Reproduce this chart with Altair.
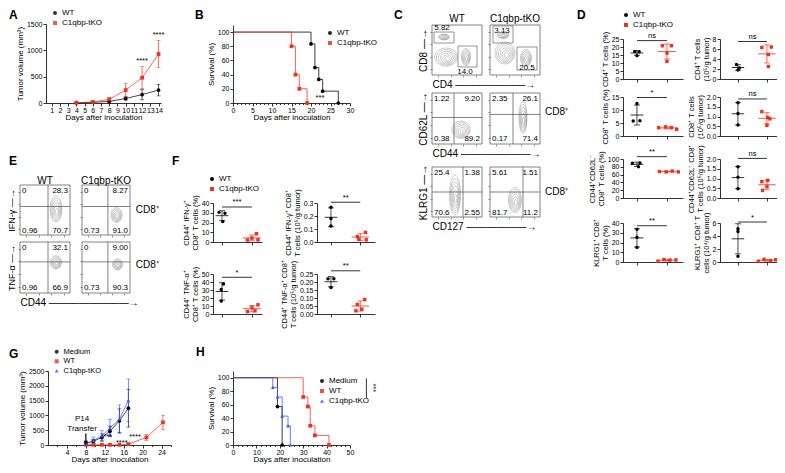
import altair as alt
import pandas as pd

FONT = "Liberation Sans"
BLACK = "#000000"
RED = "#f2311c"
BLUE = "#3355ff"
CONTOUR = "#9b9b9b"
GATE = "#4d4d4d"

GROUPS2 = ["WT", "C1qbp-tKO"]
GROUPS3 = ["Medium", "WT", "C1qbp-tKO"]

# ======================= DATA =======================
# ---- A: tumour growth ----
a_days = [4, 6, 8, 10, 12, 14]
a_wt_mean = [5, 12, 30, 85, 160, 245]
a_wt_sd = [3, 5, 12, 30, 100, 110]
a_ko_mean = [5, 20, 70, 245, 480, 930]
a_ko_sd = [3, 8, 30, 125, 210, 255]
a_x_ticks = list(range(1, 15))
a_y_ticks = [0, 500, 1000, 1500]
a_sig_day = [12, 14]
a_sig_y = [720, 1215]
a_sig_text = ["****", "****"]

# ---- B: survival ----
b_wt_day = [0, 20, 21, 22, 23, 27]
b_wt_surv = [100, 83.3, 50.0, 33.3, 16.7, 0]
b_ko_day = [0, 15, 16, 17, 19]
b_ko_surv = [100, 80, 40, 20, 0]
b_x_ticks = list(range(0, 31))
b_y_ticks = [0, 20, 40, 60, 80, 100]
b_sig_day = [22.3]
b_sig_y = [7]
b_sig_text = ["***"]

# ---- C / E flow plots (flow units 0-100) ----
flow_ticks = [12, 37, 62, 87]
quad_x = [4, 96, 4, 96]
quad_y = [88, 88, 9, 9]
quad_align = ["left", "right", "left", "right"]

c1_wt_blobs = [(28, 36, 46, 36), (24, 76, 22, 12), (68, 36, 18, 34)]
c1_ko_blobs = [(30, 44, 40, 44), (26, 80, 24, 14), (72, 34, 22, 34)]
c1_wt_gates = [(4, 44, 64, 86), (52, 90, 16, 58)]
c1_ko_gates = [(6, 46, 64, 98), (54, 94, 10, 56)]
c1_wt_num = ["5.82", "14.0"]
c1_wt_num_x = [20, 66]
c1_wt_num_y = [94, 7]
c1_ko_num = ["3.13", "20.5"]
c1_ko_num_x = [24, 74]
c1_ko_num_y = [89, 15]

c2_wt_num = ["1.22", "9.20", "0.38", "89.2"]
c2_ko_num = ["2.35", "26.1", "0.17", "71.4"]
c2_v = [44, 46]
c2_h = [52, 58]
c2_wt_blobs = [(58, 28, 36, 34)]
c2_ko_blobs = [(66, 52, 16, 62)]

c3_wt_num = ["25.4", "1.38", "70.6", "2.55"]
c3_ko_num = ["5.61", "1.51", "81.7", "11.2"]
c3_v = [62, 66]
c3_h = [50, 50]
c3_wt_blobs = [(46, 44, 22, 80)]
c3_ko_blobs = [(50, 34, 26, 50)]

e1_wt_num = ["0", "28.3", "0.96", "70.7"]
e1_ko_num = ["0", "8.27", "0.73", "91.0"]
e1_v = [56, 54]
e1_h = [57, 57]
e1_wt_blobs = [(72, 52, 24, 52)]
e1_ko_blobs = [(72, 40, 22, 30)]

e2_wt_num = ["0", "32.1", "0.96", "66.9"]
e2_ko_num = ["0", "9.00", "0.73", "90.3"]
e2_v = [56, 54]
e2_h = [61, 61]
e2_wt_blobs = [(72, 60, 22, 26)]
e2_ko_blobs = [(74, 56, 20, 22)]

# ---- D dot plots ----
d11_wt = [17.2, 17.0, 14.6]
d11_wt_off = [-0.15, 0.15, 0.0]
d11_ko = [20.8, 20.8, 16.2, 11.0]
d11_ko_off = [-0.3, 0.3, 0.0, 0.0]
d12_wt = [2.9, 2.2, 1.8]
d12_wt_off = [-0.1, 0.1, 0.0]
d12_ko = [6.3, 6.4, 4.9, 2.5]
d12_ko_off = [-0.35, 0.3, 0.1, 0.1]
d21_wt = [12.5, 5.8, 5.9]
d21_wt_off = [0.0, -0.25, 0.2]
d21_ko = [3.2, 3.5, 3.2, 2.6]
d21_ko_off = [-0.55, -0.1, 0.3, 0.65]
d22_wt = [1.71, 1.15, 0.56]
d22_wt_off = [0.0, 0.0, 0.0]
d22_ko = [1.25, 0.95, 0.88, 0.55]
d22_ko_off = [-0.35, 0.05, 0.2, 0.0]
d31_wt = [89, 90, 80]
d31_wt_off = [-0.3, 0.2, 0.1]
d31_ko = [68, 67, 69, 67]
d31_ko_off = [-0.5, -0.05, 0.35, 0.75]
d32_wt = [1.6, 1.07, 0.47]
d32_wt_off = [0.0, 0.0, 0.0]
d32_ko = [0.84, 0.9, 0.59, 0.39]
d32_ko_off = [-0.35, 0.05, 0.0, -0.3]
d41_wt = [33.7, 25.4, 15.0]
d41_wt_off = [0.0, 0.0, 0.0]
d41_ko = [0.8, 2.5, 2.0, 2.1]
d41_ko_off = [-0.6, -0.2, 0.2, 0.6]
d42_wt = [5.1, 4.7, 0.9]
d42_wt_off = [0.0, 0.0, 0.0]
d42_ko = [0.1, 0.4, 0.2, 0.35]
d42_ko_off = [-0.6, -0.2, 0.25, 0.6]

# ---- F dot plots ----
f11_wt = [30.4, 29.5, 21.1]
f11_wt_off = [-0.2, 0.2, 0.05]
f11_ko = [8.5, 4.0, 2.0, 2.2]
f11_ko_off = [0.3, 0.0, -0.3, 0.4]
f12_wt = [0.267, 0.18, 0.123]
f12_wt_off = [0.0, 0.0, 0.0]
f12_ko = [0.074, 0.041, 0.017, 0.02]
f12_ko_off = [0.35, -0.2, 0.4, -0.1]
f21_wt = [37.6, 30.6, 16.2]
f21_wt_off = [0.1, -0.05, -0.05]
f21_ko = [11.5, 8.0, 4.0, 3.0]
f21_ko_off = [0.4, 0.0, 0.2, -0.3]
f22_wt = [0.22, 0.22, 0.165]
f22_wt_off = [-0.2, 0.2, 0.0]
f22_ko = [0.09, 0.06, 0.03, 0.02]
f22_ko_off = [0.3, -0.2, 0.1, -0.3]

# ---- G: growth after transfer ----
g_days = [8, 9.6, 11.4, 13.1, 15.1, 17.0]
g_wt_days = [8, 9.6, 11.4, 13.1, 15.1, 17.0, 20.8, 24.3]
g_med_mean = [50, 128, 255, 468, 819, 1245]
g_med_sd = [15, 60, 120, 170, 400, 640]
g_wt_mean = [8, 6, 6, 6, 4, 30, 255, 766]
g_wt_sd = [3, 3, 3, 3, 3, 10, 100, 240]
g_ko_mean = [32, 160, 309, 574, 872, 1511]
g_ko_sd = [15, 110, 180, 300, 480, 720]
g_x_ticks = list(range(2, 27, 2))
g_y_ticks = [0, 500, 1000, 1500, 2000, 2500]
g_sig_day = [18.4, 12.6, 15.6]
g_sig_y = [140, 140, -60]
g_sig_text = ["****", "***", "****"]
g_note_day = [7.2, 7.2]
g_note_y = [870, 555]
g_note_text = ["P14", "Transfer"]
g_arrow_day = [8]
g_arrow_top = [390]
g_arrow_bottom = [110]
g_arrow_head = [75]

# ---- H: survival after transfer ----
h_med_day = [0, 19, 21]
h_med_surv = [100, 57.1, 0]
h_wt_day = [0, 30, 32, 33, 35, 41]
h_wt_surv = [100, 71.4, 57.1, 28.6, 14.3, 0]
h_ko_day = [0, 17, 19, 21, 23.5, 24.5]
h_ko_surv = [100, 85.7, 71.4, 42.9, 28.6, 0]
h_x_ticks = list(range(0, 51, 2))
h_sig_x = [57]
h_sig_top = [99]
h_sig_bottom = [70]
h_sig_text_x = [60]
h_sig_text_y = [85]

# ---- panel letters ----
letters = ["A", "B", "C", "D", "E", "F", "G", "H"]

RING_FRACS = [0.22, 0.4, 0.56, 0.71, 0.86, 1.0]

# ======================= LAYOUT (page pixels) =======================
W, H = 775, 463
OFF = 2          # chart coordinate = page coordinate - OFF
PAD = -6

BOX_A = (46, 161, 24, 103)
BOX_B = (233, 350, 25, 103)
BOX_G = (48, 171, 371, 445)
BOX_H = (233, 350, 371, 445)
C_COLS = [(432, 482), (490, 540)]
C_ROWS = [(25, 75), (93, 144), (167, 217)]
E_COLS = [(20, 70), (82, 130)]
E_ROWS = [(185, 235), (242, 293)]
D_COLS = [(623, 683), (720, 782)]
D_ROWS = [(39, 79), (97, 136), (159, 198), (223, 262)]
F_COLS = [(213, 262), (317, 375)]
F_ROWS = [(203, 242), (274, 314)]
LETTER_POS = [(9, 10), (195, 10), (394, 10), (577, 10), (9, 156), (172, 156), (9, 349), (196, 347)]


def xsc(dom, x0, x1):
    return alt.Scale(domain=dom, range=[x0 - OFF, x1 - OFF], nice=False, zero=False)


def ysc(dom, y0, y1):
    return alt.Scale(domain=dom, range=[y1 - OFF, y0 - OFF], nice=False, zero=False)


def xoff(y1):
    return (y1 - OFF) - H


def yoff(x0):
    return -(x0 - OFF)


def legend_at(x, y, fs=8, row_pad=2):
    return alt.Legend(orient="none", legendX=x - OFF, legendY=y - OFF, title=None, labelFontSize=fs,
                      symbolSize=16, rowPadding=row_pad, labelOffset=3, padding=0)


def color_expr(groups, colors):
    e = f"'{colors[-1]}'"
    for g, c in reversed(list(zip(groups[:-1], colors[:-1]))):
        e = f"datum.group == '{g}' ? '{c}' : ({e})"
    return e


FIXED = alt.Color("col:N", scale=None)

# ======================= BUILDERS =======================
def growth_df(groups):
    rows = []
    for name, days, means, sds in groups:
        for d, m, s in zip(days, means, sds):
            rows.append({"group": name, "day": d, "m": m, "s": s})
    return pd.DataFrame(rows)


def growth_chart(df, groups, colors, shapes, box, xdom, xticks, ydom, yticks, legend,
                 sig_day, sig_y, sig_text, label_every=None, extra=()):
    x0, x1, y0, y1 = box
    xs = xsc(xdom, x0, x1)
    ys = ysc(ydom, y0, y1)
    xkw = dict(orient="bottom", offset=xoff(y1), values=xticks, title="Days after inoculation",
               tickSize=3, titlePadding=0, labelPadding=0.5)
    if label_every:
        xkw["labelExpr"] = f"datum.value % {label_every} === 0 ? datum.label : ''"
        xkw["tickSize"] = {"condition": {"test": f"datum.value % {label_every} === 0", "value": 3}, "value": 1.5}
    xax = alt.Axis(**xkw)
    yax = alt.Axis(orient="left", offset=yoff(x0), values=yticks, format="d", title="Tumor volume (mm³)",
                   tickSize=3)
    cs = alt.Scale(domain=groups, range=colors)
    ss = alt.Scale(domain=groups, range=shapes)
    base = alt.Chart(df).transform_calculate(lo="datum.m - datum.s", hi="datum.m + datum.s",
                                             col=color_expr(groups, colors))
    X = alt.X("day:Q", scale=xs, axis=xax)
    line = base.mark_line(strokeWidth=0.9, opacity=0.8).encode(x=X, y=alt.Y("m:Q", scale=ys, axis=yax), color=FIXED)
    err = base.mark_rule(strokeWidth=0.7).encode(x=X, y=alt.Y("lo:Q", scale=ys, axis=yax), y2="hi:Q", color=FIXED)
    cap_hi = base.mark_tick(orient="horizontal", size=4, thickness=0.7).encode(
        x=X, y=alt.Y("hi:Q", scale=ys, axis=yax), color=FIXED)
    cap_lo = base.mark_tick(orient="horizontal", size=4, thickness=0.7).encode(
        x=X, y=alt.Y("lo:Q", scale=ys, axis=yax), color=FIXED)
    pts = alt.Chart(df).mark_point(filled=True, size=14, opacity=1).encode(
        x=X, y=alt.Y("m:Q", scale=ys, axis=yax),
        color=alt.Color("group:N", scale=cs, legend=legend),
        shape=alt.Shape("group:N", scale=ss, legend=legend))
    sdf = pd.DataFrame({"day": sig_day, "y": sig_y, "t": sig_text})
    sig = alt.Chart(sdf).mark_text(fontSize=7.5, baseline="bottom", color=BLACK).encode(
        x=alt.X("day:Q", scale=xs, axis=xax), y=alt.Y("y:Q", scale=ys, axis=yax), text="t:N")
    layers = [line, err, cap_hi, cap_lo, pts, sig] + [e(xs, ys, xax, yax) for e in extra]
    return alt.layer(*layers)


def surv_df(groups):
    rows = []
    for name, days, surv in groups:
        for d, s in zip(days, surv):
            rows.append({"group": name, "day": d, "surv": s})
    return pd.DataFrame(rows)


def surv_chart(df, groups, colors, shapes, box, xdom, xticks, label_every, legend, extra=()):
    x0, x1, y0, y1 = box
    xs = xsc(xdom, x0, x1)
    ys = ysc([0, 110], y0, y1)
    xax = alt.Axis(orient="bottom", offset=xoff(y1), values=xticks, title="Days after inoculation",
                   titlePadding=0, labelPadding=0.5,
                   labelExpr=f"datum.value % {label_every} === 0 ? datum.label : ''",
                   tickSize={"condition": {"test": f"datum.value % {label_every} === 0", "value": 3}, "value": 1.5})
    yax = alt.Axis(orient="left", offset=yoff(x0), values=[0, 20, 40, 60, 80, 100], title="Survival (%)", tickSize=3)
    cs = alt.Scale(domain=groups, range=colors)
    ss = alt.Scale(domain=groups, range=shapes)
    X = alt.X("day:Q", scale=xs, axis=xax)
    Y = alt.Y("surv:Q", scale=ys, axis=yax)
    line = alt.Chart(df).transform_calculate(col=color_expr(groups, colors)).mark_line(
        interpolate="step-after", strokeWidth=0.9, opacity=0.85).encode(x=X, y=Y, color=FIXED)
    pts = alt.Chart(df).transform_filter("datum.day > 0").mark_point(filled=True, size=14, opacity=1).encode(
        x=X, y=Y, color=alt.Color("group:N", scale=cs, legend=legend),
        shape=alt.Shape("group:N", scale=ss, legend=legend))
    layers = [line, pts] + [e(xs, ys, xax, yax) for e in extra]
    return alt.layer(*layers)


def flow_chart(col, row, blobs, nums, num_x, num_y, num_align, vline=None, hline=None, gates=(),
               ytitle=None, xtitle=None, side=None, side_x=110, side_y=50, ytitle_size=10,
               head=None, head_y=112):
    x0, x1 = col
    y0, y1 = row
    hpx = y1 - y0
    ring = []
    for cx, cy, bw, bh in blobs:
        a = bw / bh
        path = f"M {-a:.3f} 0 A {a:.3f} 1 0 1 1 {a:.3f} 0 A {a:.3f} 1 0 1 1 {-a:.3f} 0 Z"
        for f in RING_FRACS:
            # inner contours drift slightly toward the density peak (lower right of the blob)
            ring.append({"x": cx + (1 - f) * 0.08 * bw, "y": cy - (1 - f) * 0.12 * bh, "path": path,
                         "size": round((f * bh * hpx / 100.0) ** 2, 2)})
    ring_df = pd.DataFrame(ring)
    xs = xsc([0, 100], x0, x1)
    ys = ysc([0, 100], y0, y1)
    xkw = dict(orient="bottom", offset=xoff(y1), values=flow_ticks, labels=False, tickSize=2,
               tickColor="#777777", domain=False, grid=False)
    if xtitle:
        xkw.update(title=xtitle, titleFontSize=10, titleAnchor="start", titleLimit=300, titlePadding=2)
    else:
        xkw["title"] = None
    ykw = dict(orient="left", offset=yoff(x0), values=flow_ticks, labels=False, tickSize=2,
               tickColor="#777777", domain=False, grid=False)
    if ytitle:
        ykw.update(title=ytitle, titleFontSize=ytitle_size, titlePadding=1, titleLimit=300)
    else:
        ykw["title"] = None
    xax = alt.Axis(**xkw)
    yax = alt.Axis(**ykw)

    def X(f):
        return alt.X(f, scale=xs, axis=xax)

    def Y(f):
        return alt.Y(f, scale=ys, axis=yax)

    frame = pd.DataFrame({"x1": [0], "x2": [100], "y1": [0], "y2": [100]})
    layers = [
        alt.Chart(frame).mark_rect(filled=False, color=GATE, strokeWidth=0.7).encode(
            x=X("x1:Q"), x2="x2:Q", y=Y("y1:Q"), y2="y2:Q"),
        alt.Chart(ring_df).mark_point(filled=False, color=CONTOUR, strokeWidth=0.5, opacity=1).encode(
            x=X("x:Q"), y=Y("y:Q"), shape=alt.Shape("path:N", scale=None), size=alt.Size("size:Q", scale=None)),
    ]
    if vline is not None:
        layers.append(alt.Chart(pd.DataFrame({"v": [vline], "a": [0], "b": [100]})).mark_rule(
            color=GATE, strokeWidth=0.7).encode(x=X("v:Q"), y=Y("a:Q"), y2="b:Q"))
    if hline is not None:
        layers.append(alt.Chart(pd.DataFrame({"v": [hline], "a": [0], "b": [100]})).mark_rule(
            color=GATE, strokeWidth=0.7).encode(y=Y("v:Q"), x=X("a:Q"), x2="b:Q"))
    if gates:
        gdf = pd.DataFrame(list(gates), columns=["x1", "x2", "y1", "y2"])
        layers.append(alt.Chart(gdf).mark_rect(filled=False, color=GATE, strokeWidth=0.6).encode(
            x=X("x1:Q"), x2="x2:Q", y=Y("y1:Q"), y2="y2:Q"))
    ndf = pd.DataFrame({"x": num_x, "y": num_y, "t": nums, "al": num_align})
    for al in ("left", "center", "right"):
        sub = ndf[ndf["al"] == al]
        if len(sub):
            layers.append(alt.Chart(sub).mark_text(align=al, baseline="middle", fontSize=8, color=BLACK).encode(
                x=X("x:Q"), y=Y("y:Q"), text="t:N"))
    if side:
        sdf = pd.DataFrame({"x": [side_x], "y": [side_y], "t": [side]})
        layers.append(alt.Chart(sdf).mark_text(align="left", baseline="middle", fontSize=10, color=BLACK).encode(
            x=X("x:Q"), y=Y("y:Q"), text="t:N"))
    if head:
        hdf = pd.DataFrame({"x": [50], "y": [head_y], "t": [head]})
        layers.append(alt.Chart(hdf).mark_text(align="center", baseline="middle", fontSize=10, color=BLACK).encode(
            x=X("x:Q"), y=Y("y:Q"), text="t:N"))
    return alt.layer(*layers)


def dot_chart(col, row, wt, wt_off, ko, ko_off, ydom, yticks, yfmt, ytitle, sig_text, sig_y, xdom, legend=None):
    x0, x1 = col
    y0, y1 = row
    rows = [{"group": "WT", "gx": 1, "x": 1 + o, "v": v} for v, o in zip(wt, wt_off)]
    rows += [{"group": "C1qbp-tKO", "gx": 3, "x": 3 + o, "v": v} for v, o in zip(ko, ko_off)]
    df = pd.DataFrame(rows)
    xs = xsc(xdom, x0, x1)
    ys = ysc(ydom, y0, y1)
    xax = alt.Axis(orient="bottom", offset=xoff(y1), values=[1, 3], labels=False, title=None, tickSize=3)
    ykw = dict(orient="left", offset=yoff(x0), values=yticks, title=ytitle, tickSize=3, labelFontSize=7,
               titleFontSize=7.5, titlePadding=2, titleLineHeight=8.5)
    if yfmt:
        ykw["format"] = yfmt
    yax = alt.Axis(**ykw)
    cs = alt.Scale(domain=GROUPS2, range=[BLACK, RED])
    ss = alt.Scale(domain=GROUPS2, range=["circle", "square"])

    def X(f):
        return alt.X(f, scale=xs, axis=xax)

    def Y(f):
        return alt.Y(f, scale=ys, axis=yax)

    stats = alt.Chart(df).transform_aggregate(
        m="mean(v)", s="stdev(v)", groupby=["group", "gx"]
    ).transform_calculate(
        lo="datum.m - datum.s", hi="datum.m + datum.s",
        hw="datum.group == 'WT' ? 0.43 : 0.6",
        xl="datum.gx - datum.hw", xr="datum.gx + datum.hw",
        cl="datum.gx - 0.2", cr="datum.gx + 0.2",
        col=color_expr(GROUPS2, [BLACK, RED]))
    mean_l = stats.mark_rule(strokeWidth=0.8).encode(x=X("xl:Q"), x2="xr:Q", y=Y("m:Q"), color=FIXED)
    sd_l = stats.mark_rule(strokeWidth=0.7).encode(x=X("gx:Q"), y=Y("lo:Q"), y2="hi:Q", color=FIXED)
    cap_h = stats.mark_rule(strokeWidth=0.7).encode(x=X("cl:Q"), x2="cr:Q", y=Y("hi:Q"), color=FIXED)
    cap_l = stats.mark_rule(strokeWidth=0.7).encode(x=X("cl:Q"), x2="cr:Q", y=Y("lo:Q"), color=FIXED)
    pts = alt.Chart(df).mark_point(filled=True, size=12, opacity=1).encode(
        x=X("x:Q"), y=Y("v:Q"),
        color=alt.Color("group:N", scale=cs, legend=legend),
        shape=alt.Shape("group:N", scale=ss, legend=legend))
    sig_df = pd.DataFrame({"x1": [1], "x2": [3], "xm": [2], "y": [sig_y], "t": [sig_text]})
    sig_r = alt.Chart(sig_df).mark_rule(color=BLACK, strokeWidth=0.8).encode(x=X("x1:Q"), x2="x2:Q", y=Y("y:Q"))
    sig_t = alt.Chart(sig_df).mark_text(fontSize=7.5, baseline="bottom", dy=-0.5, color=BLACK).encode(
        x=X("xm:Q"), y=Y("y:Q"), text="t:N")
    return alt.layer(mean_l, sd_l, cap_h, cap_l, pts, sig_r, sig_t)


# ======================= PANELS =======================
panels = []

# A
a_df = growth_df([("WT", a_days, a_wt_mean, a_wt_sd), ("C1qbp-tKO", a_days, a_ko_mean, a_ko_sd)])
panels.append(growth_chart(a_df, GROUPS2, [BLACK, RED], ["circle", "square"], BOX_A, [0.3, 14.3], a_x_ticks,
                           [0, 1500], a_y_ticks, legend_at(51, 9), a_sig_day, a_sig_y, a_sig_text))

# B
b_df = surv_df([("WT", b_wt_day, b_wt_surv), ("C1qbp-tKO", b_ko_day, b_ko_surv)])


def b_sig(xs, ys, xax, yax):
    d = pd.DataFrame({"day": b_sig_day, "y": b_sig_y, "t": b_sig_text})
    return alt.Chart(d).mark_text(fontSize=7.5, baseline="middle", color=BLACK).encode(
        x=alt.X("day:Q", scale=xs, axis=xax), y=alt.Y("y:Q", scale=ys, axis=yax), text="t:N")


panels.append(surv_chart(b_df, GROUPS2, [BLACK, RED], ["circle", "square"], BOX_B, [0, 30], b_x_ticks, 5,
                         legend_at(326, 29), extra=(b_sig,)))

# C
panels += [
    flow_chart(C_COLS[0], C_ROWS[0], c1_wt_blobs, c1_wt_num, c1_wt_num_x, c1_wt_num_y, ["center", "center"],
               gates=c1_wt_gates, ytitle="CD8 —→", xtitle="CD4 ———————→", head="WT", head_y=112),
    flow_chart(C_COLS[1], C_ROWS[0], c1_ko_blobs, c1_ko_num, c1_ko_num_x, c1_ko_num_y, ["center", "center"],
               gates=c1_ko_gates, head="C1qbp-tKO", head_y=112),
    flow_chart(C_COLS[0], C_ROWS[1], c2_wt_blobs, c2_wt_num, quad_x, quad_y, quad_align, vline=c2_v[0],
               hline=c2_h[0], ytitle="CD62L —→", xtitle="CD44 ———————→"),
    flow_chart(C_COLS[1], C_ROWS[1], c2_ko_blobs, c2_ko_num, quad_x, quad_y, quad_align, vline=c2_v[1],
               hline=c2_h[1], side="CD8⁺", side_x=110, side_y=63),
    flow_chart(C_COLS[0], C_ROWS[2], c3_wt_blobs, c3_wt_num, quad_x, quad_y, quad_align, vline=c3_v[0],
               hline=c3_h[0], ytitle="KLRG1 —→", xtitle="CD127 ——————→"),
    flow_chart(C_COLS[1], C_ROWS[2], c3_ko_blobs, c3_ko_num, quad_x, quad_y, quad_align, vline=c3_v[1],
               hline=c3_h[1], side="CD8⁺", side_x=110, side_y=50),
]

# D
DX1 = [0.07, 4.07]
DX2 = [-0.24, 4.04]
panels += [
    dot_chart(D_COLS[0], D_ROWS[0], d11_wt, d11_wt_off, d11_ko, d11_ko_off, [0, 25], [0, 5, 10, 15, 20, 25], None,
              "CD4⁺ T cells (%)", "ns", 24, DX1, legend=legend_at(622, 11)),
    dot_chart(D_COLS[1], D_ROWS[0], d12_wt, d12_wt_off, d12_ko, d12_ko_off, [0, 8], [0, 2, 4, 6, 8], None,
              ["CD4⁺ T cells", "(10⁵/g tumor)"], "ns", 7.5, DX2),
    dot_chart(D_COLS[0], D_ROWS[1], d21_wt, d21_wt_off, d21_ko, d21_ko_off, [0, 15], [0, 5, 10, 15], None,
              "CD8⁺ T cells (%)", "*", 14.8, DX1),
    dot_chart(D_COLS[1], D_ROWS[1], d22_wt, d22_wt_off, d22_ko, d22_ko_off, [0, 2], [0, 0.5, 1, 1.5, 2], ".1f",
              ["CD8⁺ T cells", "(10⁵/g tumor)"], "ns", 1.9, DX2),
    dot_chart(D_COLS[0], D_ROWS[2], d31_wt, d31_wt_off, d31_ko, d31_ko_off, [0, 100], [0, 20, 40, 60, 80, 100],
              None, ["CD44⁺CD62L⁻", "CD8⁺ T cells (%)"], "**", 106, DX1),
    dot_chart(D_COLS[1], D_ROWS[2], d32_wt, d32_wt_off, d32_ko, d32_ko_off, [0, 2], [0, 0.5, 1, 1.5, 2], ".1f",
              ["CD44⁺CD62L⁻ CD8⁺", "T cells (10⁵/g tumor)"], "ns", 2.03, DX2),
    dot_chart(D_COLS[0], D_ROWS[3], d41_wt, d41_wt_off, d41_ko, d41_ko_off, [0, 40], [0, 10, 20, 30, 40], None,
              ["KLRG1⁺ CD8⁺", "T cells (%)"], "**", 37.2, DX1),
    dot_chart(D_COLS[1], D_ROWS[3], d42_wt, d42_wt_off, d42_ko, d42_ko_off, [0, 6], [0, 2, 4, 6], None,
              ["KLRG1⁺ CD8⁺ T", "cells (10⁴/g tumor)"], "*", 6.15, DX2),
]

# E
panels += [
    flow_chart(E_COLS[0], E_ROWS[0], e1_wt_blobs, e1_wt_num, quad_x, quad_y, quad_align, vline=e1_v[0],
               hline=e1_h[0], ytitle="IFN-γ —→", ytitle_size=9, head="WT", head_y=108),
    flow_chart(E_COLS[1], E_ROWS[0], e1_ko_blobs, e1_ko_num, quad_x, quad_y, quad_align, vline=e1_v[1],
               hline=e1_h[1], side="CD8⁺", side_x=112, side_y=50, head="C1qbp-tKO", head_y=108),
    flow_chart(E_COLS[0], E_ROWS[1], e2_wt_blobs, e2_wt_num, quad_x, quad_y, quad_align, vline=e2_v[0],
               hline=e2_h[0], ytitle="TNF-α —→", ytitle_size=9, xtitle="CD44 ————————→"),
    flow_chart(E_COLS[1], E_ROWS[1], e2_ko_blobs, e2_ko_num, quad_x, quad_y, quad_align, vline=e2_v[1],
               hline=e2_h[1], side="CD8⁺", side_x=112, side_y=55),
]

# F
FX1 = [0.4, 3.67]
FX2 = [0.05, 4.0]
panels += [
    dot_chart(F_COLS[0], F_ROWS[0], f11_wt, f11_wt_off, f11_ko, f11_ko_off, [0, 40], [0, 10, 20, 30, 40], None,
              ["CD44⁺ IFN-γ⁺", "CD8⁺ T cells (%)"], "***", 35.9, FX1, legend=legend_at(208, 175)),
    dot_chart(F_COLS[1], F_ROWS[0], f12_wt, f12_wt_off, f12_ko, f12_ko_off, [0, 0.3], [0, 0.1, 0.2, 0.3], ".1f",
              ["CD44⁺ IFN-γ⁺ CD8⁺", "T cells (10⁵/g tumor)"], "**", 0.306, FX2),
    dot_chart(F_COLS[0], F_ROWS[1], f21_wt, f21_wt_off, f21_ko, f21_ko_off, [0, 50], [0, 10, 20, 30, 40, 50],
              None, ["CD44⁺ TNF-α⁺", "CD8⁺ T cells (%)"], "*", 45.9, FX1),
    dot_chart(F_COLS[1], F_ROWS[1], f22_wt, f22_wt_off, f22_ko, f22_ko_off, [0, 0.25],
              [0, 0.05, 0.1, 0.15, 0.2, 0.25], ".2f", ["CD44⁺ TNF-α⁺ CD8⁺", "T cells (10⁵/g tumor)"], "**", 0.27,
              FX2),
]

# G
g_df = growth_df([("Medium", g_days, g_med_mean, g_med_sd), ("WT", g_wt_days, g_wt_mean, g_wt_sd),
                  ("C1qbp-tKO", g_days, g_ko_mean, g_ko_sd)])


def g_notes(xs, ys, xax, yax):
    d = pd.DataFrame({"day": g_note_day, "y": g_note_y, "t": g_note_text})
    return alt.Chart(d).mark_text(fontSize=8, baseline="middle", color=BLACK).encode(
        x=alt.X("day:Q", scale=xs, axis=xax), y=alt.Y("y:Q", scale=ys, axis=yax), text="t:N")


def g_arrow(xs, ys, xax, yax):
    d = pd.DataFrame({"day": g_arrow_day, "y1": g_arrow_top, "y2": g_arrow_bottom})
    return alt.Chart(d).mark_rule(color=BLACK, strokeWidth=1.2).encode(
        x=alt.X("day:Q", scale=xs, axis=xax), y=alt.Y("y1:Q", scale=ys, axis=yax), y2="y2:Q")


def g_head(xs, ys, xax, yax):
    d = pd.DataFrame({"day": g_arrow_day, "y": g_arrow_head})
    return alt.Chart(d).mark_point(shape="triangle-down", filled=True, size=22, color=BLACK, opacity=1).encode(
        x=alt.X("day:Q", scale=xs, axis=xax), y=alt.Y("y:Q", scale=ys, axis=yax))


panels.append(growth_chart(g_df, GROUPS3, [BLACK, RED, BLUE], ["circle", "square", "triangle-up"], BOX_G,
                           [0, 26], g_x_ticks, [0, 2500], g_y_ticks, legend_at(53, 348, fs=7.5, row_pad=0.5),
                           g_sig_day, g_sig_y, g_sig_text, label_every=4, extra=(g_notes, g_arrow, g_head)))

# H
h_df = surv_df([("Medium", h_med_day, h_med_surv), ("WT", h_wt_day, h_wt_surv),
                ("C1qbp-tKO", h_ko_day, h_ko_surv)])


def h_sig_rule(xs, ys, xax, yax):
    d = pd.DataFrame({"day": h_sig_x, "y1": h_sig_top, "y2": h_sig_bottom})
    return alt.Chart(d).mark_rule(color=BLACK, strokeWidth=0.8).encode(
        x=alt.X("day:Q", scale=xs, axis=xax), y=alt.Y("y1:Q", scale=ys, axis=yax), y2="y2:Q")


def h_sig_txt(xs, ys, xax, yax):
    d = pd.DataFrame({"day": h_sig_text_x, "y": h_sig_text_y, "t": ["***"]})
    return alt.Chart(d).mark_text(fontSize=7.5, angle=90, baseline="middle", color=BLACK).encode(
        x=alt.X("day:Q", scale=xs, axis=xax), y=alt.Y("y:Q", scale=ys, axis=yax), text="t:N")


panels.append(surv_chart(h_df, GROUPS3, [BLACK, RED, BLUE], ["circle", "square", "triangle-up"], BOX_H, [0, 50],
                         h_x_ticks, 10, legend_at(318, 377), extra=(h_sig_rule, h_sig_txt)))

# panel letters
let_df = pd.DataFrame({"t": letters, "x": [p[0] for p in LETTER_POS], "y": [p[1] for p in LETTER_POS]})
panels.append(
    alt.Chart(let_df).mark_text(align="left", baseline="top", fontSize=12, fontWeight="bold", color=BLACK).encode(
        x=alt.X("x:Q", scale=alt.Scale(domain=[OFF, OFF + W], range=[0, W], nice=False, zero=False), axis=None),
        y=alt.Y("y:Q", scale=alt.Scale(domain=[OFF, OFF + H], range=[0, H], nice=False, zero=False), axis=None),
        text="t:N")
)

chart = (
    alt.layer(*panels)
    .resolve_scale(x="independent", y="independent", color="independent", shape="independent")
    .properties(width=W, height=H, autosize=alt.AutoSizeParams(type="none"),
                padding={"left": PAD, "top": PAD, "right": 0, "bottom": 0})
    .configure(font=FONT)
    .configure_view(stroke=None)
    .configure_axis(labelFontSize=7, titleFontSize=8, titleFontWeight="normal", labelColor=BLACK,
                    titleColor=BLACK, domainColor=BLACK, tickColor=BLACK, domainWidth=0.8, tickWidth=0.8,
                    grid=False, labelPadding=1, titlePadding=2, labelFlush=False, labelOverlap=False)
)

chart.save("out.html", embed_options={"renderer": "svg", "actions": False})
